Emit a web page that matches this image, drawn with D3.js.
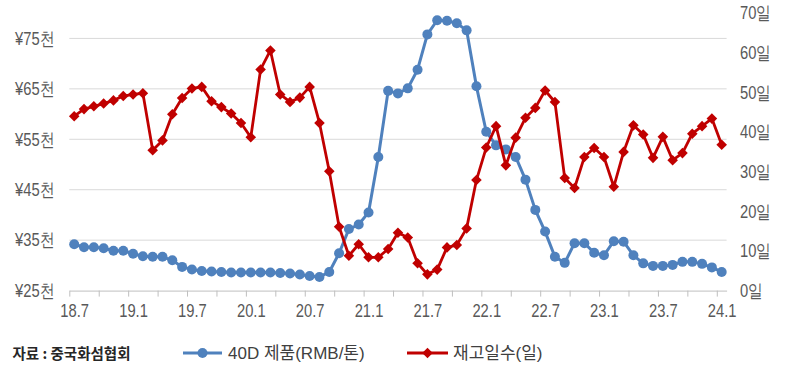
<!DOCTYPE html>
<html>
<head>
<meta charset="utf-8">
<title>40D 제품 가격과 재고일수</title>
<script src="https://cdn.jsdelivr.net/npm/d3@7"></script>
<style>
  body{ margin:0; background:#fff; }
  svg{ display:block; font-family:"Liberation Sans", Arial, "Noto Sans CJK KR", sans-serif; }
  .grid line{ stroke:#d9d9d9; stroke-width:1; }
  .axis text{ fill:#595959; font-size:18px; }
</style>
</head>
<body>
<div id="chart"></div>
<script>
// months 18.7 .. 24.1
var categories = [];
for (var y = 18; y <= 24; y++) {
  for (var m = 1; m <= 12; m++) {
    if ((y == 18 && m < 7) || (y == 24 && m > 1)) continue;
    categories.push(y + "." + m);
  }
}
var tickLabels = ["18.7","19.1","19.7","20.1","20.7","21.1","21.7","22.1","22.7","23.1","23.7","24.1"];

// 40D 제품 가격 (천 RMB/톤)
var price = [34.2,33.6,33.6,33.4,32.9,32.9,32.3,31.8,31.7,31.7,
             31.0,29.7,29.2,28.9,28.8,28.7,28.6,28.6,28.6,28.6,
             28.6,28.5,28.4,28.2,27.9,27.7,28.7,32.4,37.2,38.1,
             40.5,51.5,64.6,64.1,65.1,68.8,75.8,78.6,78.5,78.0,
             76.6,65.5,56.5,53.8,53.0,51.5,47.0,41.0,36.7,31.7,
             30.5,34.4,34.4,32.5,32.0,34.8,34.7,32.0,30.4,29.9,
             29.9,30.1,30.7,30.7,30.3,29.6,28.7];
// 재고일수 (일)
var days = [44.0,45.8,46.5,47.2,48.0,49.1,49.5,49.8,35.4,37.9,
            44.5,48.6,51.0,51.4,47.8,46.3,44.7,42.3,38.7,55.8,
            60.6,49.5,47.6,48.7,51.4,42.3,30.1,16.1,8.8,11.7,
            8.4,8.4,10.5,14.6,13.4,6.9,4.1,5.3,10.9,11.5,
            15.7,27.9,36.1,41.5,31.6,38.6,43.6,46.1,50.5,47.6,
            28.4,25.9,33.7,36.0,33.7,26.2,35.0,41.7,39.4,33.5,
            38.8,32.9,34.7,39.6,41.5,43.4,36.8];
var leftTicks = [25,35,45,55,65,75];
var rightTicks = [0,10,20,30,40,50,60,70];

var W = 785, H = 368;
var plot = {left:69.3, right:726.6, top:13.2, bottom:290.6};
var sx = 0.82; // labels are narrow in the original

var svg = d3.select("#chart").append("svg").attr("width", W).attr("height", H);

var x = d3.scalePoint().domain(categories).range([plot.left, plot.right]).padding(0.5);
var xIdx = d3.scaleLinear().domain([0, categories.length]).range([plot.left, plot.right]);
var yL = d3.scaleLinear().domain([25, 80]).range([plot.bottom, plot.top]);
var yR = d3.scaleLinear().domain([0, 70]).range([plot.bottom, plot.top]);

// gridlines
svg.append("g").attr("class","grid")
  .selectAll("line").data(leftTicks.slice(1)).enter().append("line")
  .attr("x1", plot.left).attr("x2", plot.right)
  .attr("y1", function(d){ return yL(d); }).attr("y2", function(d){ return yL(d); });

// bottom axis: tick marks every 3 months
var tickAxis = svg.append("g").attr("transform","translate(0,"+plot.bottom+")")
  .call(d3.axisBottom(xIdx).tickValues(d3.range(0, categories.length, 3)).tickFormat("").tickSize(6).tickSizeOuter(0));
tickAxis.selectAll("path,line").attr("stroke","#bfbfbf");

// bottom axis labels every 6 months
var xAxis = svg.append("g").attr("class","axis").attr("transform","translate(0,"+plot.bottom+")")
  .call(d3.axisBottom(x).tickValues(tickLabels).tickSize(0).tickPadding(14));
xAxis.select(".domain").remove();
xAxis.selectAll("text").attr("transform","scale("+sx+",1)");

// left axis
var lAxis = svg.append("g").attr("class","axis").attr("transform","translate("+plot.left+",0)")
  .call(d3.axisLeft(yL).tickValues(leftTicks).tickSize(0).tickPadding(0)
    .tickFormat(function(d){ return "¥" + d + "천"; }));
lAxis.select(".domain").remove();
lAxis.selectAll("text").attr("x", -15.3 / sx).attr("transform","scale("+sx+",1)");

// right axis
var rAxis = svg.append("g").attr("class","axis").attr("transform","translate("+plot.right+",0)")
  .call(d3.axisRight(yR).tickValues(rightTicks).tickSize(0).tickPadding(0)
    .tickFormat(function(d){ return d + "일"; }));
rAxis.select(".domain").remove();
rAxis.selectAll("text").attr("x", 13.4 / sx).attr("transform","scale("+sx+",1)");

var blue = "#4f81bd", red = "#c00000";
var diamond = d3.symbol().type(d3.symbolSquare).size(56);

// price line
svg.append("path").datum(price)
  .attr("fill","none").attr("stroke", blue).attr("stroke-width", 3).attr("stroke-linejoin","round")
  .attr("d", d3.line().x(function(d,i){ return x(categories[i]); }).y(function(d){ return yL(d); }));
svg.append("g").selectAll("circle").data(price).enter().append("circle")
  .attr("cx", function(d,i){ return x(categories[i]); })
  .attr("cy", function(d){ return yL(d); })
  .attr("r", 5).attr("fill", blue);

// days line
svg.append("path").datum(days)
  .attr("fill","none").attr("stroke", red).attr("stroke-width", 2.8).attr("stroke-linejoin","round")
  .attr("d", d3.line().x(function(d,i){ return x(categories[i]); }).y(function(d){ return yR(d); }));
svg.append("g").selectAll("path").data(days).enter().append("path")
  .attr("d", diamond)
  .attr("transform", function(d,i){ return "translate("+x(categories[i])+","+yR(d)+") rotate(45)"; })
  .attr("fill", red);

// source + legend
var ly = 353;
svg.append("text").attr("x", 12.5).attr("y", 359)
  .attr("font-size", "14.5px").attr("font-weight", "bold").attr("fill", "#262626")
  .attr("font-family", "'Noto Sans CJK KR', sans-serif")
  .text("자료 : 중국화섬협회");

var legend = [
  {name:"40D 제품(RMB/톤)", color:blue, x0:183, x1:222, tx:228, marker:"circle"},
  {name:"재고일수(일)", color:red, x0:407, x1:448, tx:453, marker:"diamond"}
];
var lg = svg.append("g").selectAll("g").data(legend).enter().append("g");
lg.append("line")
  .attr("x1", function(d){ return d.x0; }).attr("x2", function(d){ return d.x1; })
  .attr("y1", ly).attr("y2", ly)
  .attr("stroke", function(d){ return d.color; }).attr("stroke-width", 3);
lg.each(function(d){
  var g = d3.select(this), cx = (d.x0 + d.x1) / 2;
  if (d.marker == "circle") {
    g.append("circle").attr("cx", cx).attr("cy", ly).attr("r", 5).attr("fill", d.color);
  } else {
    g.append("path").attr("d", diamond).attr("fill", d.color)
      .attr("transform", "translate("+cx+","+ly+") rotate(45)");
  }
});
lg.append("text")
  .attr("x", function(d){ return d.tx; }).attr("y", 359)
  .attr("font-size", "17px").attr("fill", "#404040")
  .text(function(d){ return d.name; });
</script>
</body>
</html>
